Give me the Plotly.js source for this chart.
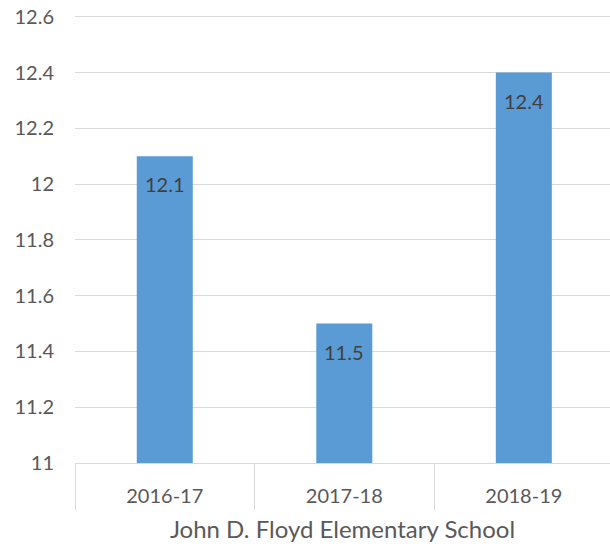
<!DOCTYPE html>
<html>
<head>
<meta charset="utf-8">
<script src="https://cdn.plot.ly/plotly-3.0.1.min.js"></script>
<style>html,body{margin:0;padding:0;background:#fff;}#chart{width:610px;height:548px;}</style>
</head>
<body>
<div id="chart"></div>
<script>
const categories = ["2016-17", "2017-18", "2018-19"];
const values = [12.1, 11.5, 12.4];
const yTicks = [11, 11.2, 11.4, 11.6, 11.8, 12, 12.2, 12.4, 12.6];
const yTickLabels = ["11", "11.2", "11.4", "11.6", "11.8", "12", "12.2", "12.4", "12.6"];
const axisTitle = "John D. Floyd Elementary School";
const yMin = 11, yMax = 12.6;

const FONT = "Lato, 'Open Sans', sans-serif";

const trace = {
  type: "bar",
  x: categories,
  y: values.map(v => v - yMin),
  base: yMin,
  marker: {color: "#5B9BD5", line: {width: 0}},
  hoverinfo: "none"
};

const annotations = categories.map((c, i) => ({
  x: c, y: values[i], xref: "x", yref: "y",
  text: String(values[i]),
  showarrow: false, yanchor: "middle", yshift: -28,
  font: {family: FONT, size: 20, color: "#404040"}
}));

const layout = {
  width: 610, height: 548,
  margin: {l: 75, r: 0, t: 14, b: 85},
  paper_bgcolor: "#fff", plot_bgcolor: "#fff",
  showlegend: false,
  bargap: 0.688,
  font: {family: FONT, size: 20, color: "#595959"},
  xaxis: {
    type: "category",
    range: [-0.5, 2.48],
    showline: true, linecolor: "#d9d9d9", linewidth: 1,
    ticks: "outside", tickson: "boundaries", ticklen: 46, tickcolor: "#d9d9d9", tickwidth: 1,
    ticklabelstandoff: 15,
    showgrid: false,
    tickfont: {family: FONT, size: 20, color: "#595959"},
    title: {text: axisTitle, standoff: 15, font: {family: FONT, size: 24, color: "#595959"}}
  },
  yaxis: {
    range: [yMin, yMax + 0.01],
    tickmode: "array", tickvals: yTicks, ticktext: yTickLabels,
    showgrid: true, gridcolor: "#d9d9d9", gridwidth: 1,
    zeroline: false, showline: false, ticks: "",
    ticklabelstandoff: 20,
    tickfont: {family: FONT, size: 20, color: "#595959"}
  },
  annotations: annotations
};

Plotly.newPlot("chart", [trace], layout, {displayModeBar: false, staticPlot: true});
</script>
</body>
</html>
